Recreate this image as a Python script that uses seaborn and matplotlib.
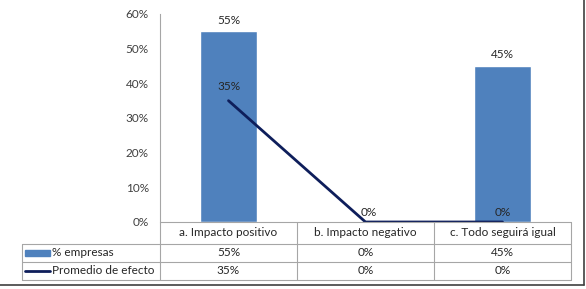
import matplotlib.pyplot as plt
import matplotlib.lines as mlines
import matplotlib.patches as mpatches
import seaborn as sns
import numpy as np
import pandas as pd

# datos del grafico
categorias = ["a. Impacto positivo", "b. Impacto negativo", "c. Todo seguirá igual"]
pct_empresas = [0.55, 0.0, 0.45]
promedio_efecto = [0.35, 0.0, 0.0]
series = ["% empresas", "Promedio de efecto"]

W, H = 586, 289
bar_color = "#4F81BD"
line_color = "#0E1E5B"
grid_color = "#A6A6A6"
font = ["Lato", "DejaVu Sans"]

sns.set_style("white")
plt.rcParams["font.family"] = font

fig = plt.figure(figsize=(W / 100, H / 100), dpi=100)

# area del grafico en pixeles
x0, x1, ytop, ybot = 160, 571, 14, 222
ax = fig.add_axes([x0 / W, 1 - ybot / H, (x1 - x0) / W, (ybot - ytop) / H])

df = pd.DataFrame({"cat": categorias, "emp": pct_empresas, "prom": promedio_efecto})
sns.barplot(data=df, x="cat", y="emp", color=bar_color, width=0.41,
            saturation=1, ax=ax)
sns.lineplot(x=np.arange(len(categorias)), y=df["prom"], color=line_color,
             linewidth=2, ax=ax)

ax.set_xlim(-0.5, len(categorias) - 0.5)
ax.set_ylim(0, 0.6)
ax.set_yticks(np.arange(0, 0.61, 0.1))
ax.set_yticklabels([f"{int(round(v * 100))}%" for v in np.arange(0, 0.61, 0.1)],
                   fontsize=8.5, color="#404040")
ax.set_xticks([])
ax.set_xlabel("")
ax.set_ylabel("")
ax.tick_params(axis="y", length=0, pad=8)
for s in ["top", "right", "bottom"]:
    ax.spines[s].set_visible(False)
ax.spines["left"].set_color(grid_color)

# etiquetas de datos
for i, v in enumerate(pct_empresas):
    if v > 0:
        ax.annotate(f"{v:.0%}", (i, v), xytext=(0, 4), textcoords="offset points",
                    ha="center", va="bottom", fontsize=8.5, color="#262626")
line_offsets = [(0, 6), (2, 3), (0, 3)]
for i, v in enumerate(promedio_efecto):
    ax.annotate(f"{v:.0%}", (i, v), xytext=line_offsets[i], textcoords="offset points",
                ha="center", va="bottom", fontsize=8.5, color="#262626")

# tabla de datos
def fx(px):
    return px / W

def fy(py):
    return 1 - py / H

cols = [160, 297, 434, 571]
rows = [222, 244, 262, 280]
tleft = 22
for x in cols:
    fig.add_artist(mlines.Line2D([fx(x)] * 2, [fy(rows[0]), fy(rows[-1])],
                                 color=grid_color, lw=0.8))
fig.add_artist(mlines.Line2D([fx(tleft)] * 2, [fy(rows[1]), fy(rows[-1])],
                             color=grid_color, lw=0.8))
fig.add_artist(mlines.Line2D([fx(cols[0]), fx(cols[-1])], [fy(rows[0])] * 2,
                             color=grid_color, lw=0.8))
for y in rows[1:]:
    fig.add_artist(mlines.Line2D([fx(tleft), fx(cols[-1])], [fy(y)] * 2,
                                 color=grid_color, lw=0.8))

for j, c in enumerate(categorias):
    cx = (cols[j] + cols[j + 1]) / 2
    fig.text(fx(cx), fy((rows[0] + rows[1]) / 2), c, ha="center", va="center",
             fontsize=8.5, color="#262626")
    for k, vals in enumerate([pct_empresas, promedio_efecto]):
        fig.text(fx(cx), fy((rows[k + 1] + rows[k + 2]) / 2), f"{vals[j]:.0%}",
                 ha="center", va="center", fontsize=8.5, color="#262626")

# claves de leyenda
ky1 = (rows[1] + rows[2]) / 2
ky2 = (rows[2] + rows[3]) / 2
fig.add_artist(mpatches.Rectangle((fx(25), fy(ky1 + 3)), fx(25), 6 / H,
                                  color=bar_color))
fig.add_artist(mlines.Line2D([fx(25), fx(50)], [fy(ky2)] * 2, color=line_color, lw=2))
fig.text(fx(52), fy(ky1), series[0], ha="left", va="center", fontsize=8.5,
         color="#262626")
fig.text(fx(52), fy(ky2), series[1], ha="left", va="center", fontsize=8.5,
         color="#262626")

# borde exterior
fig.add_artist(mlines.Line2D([fx(584)] * 2, [fy(0), fy(285)], color="#404040", lw=1.2))
fig.add_artist(mlines.Line2D([fx(0), fx(584)], [fy(285)] * 2, color="#404040", lw=1.2))

fig.savefig("out.png", dpi=100)
